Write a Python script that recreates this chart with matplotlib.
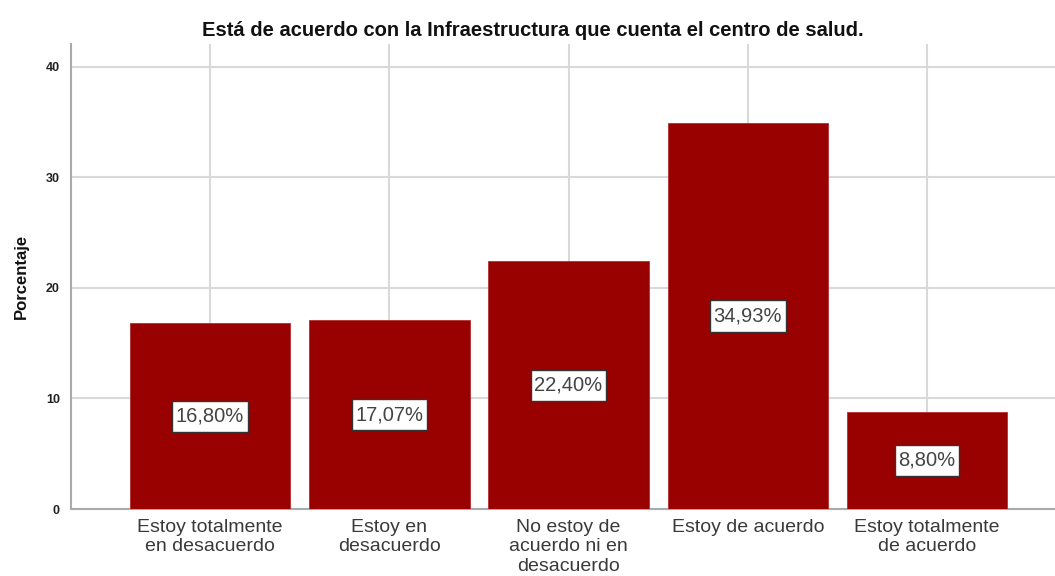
import matplotlib
matplotlib.use("Agg")
import matplotlib.pyplot as plt
from matplotlib.path import Path

categories = ["Estoy totalmente\nen desacuerdo", "Estoy en\ndesacuerdo",
              "No estoy de\nacuerdo ni en\ndesacuerdo", "Estoy de acuerdo",
              "Estoy totalmente\nde acuerdo"]
values = [16.80, 17.07, 22.40, 34.93, 8.80]
labels = ["16,80%", "17,07%", "22,40%", "34,93%", "8,80%"]
title = "Está de acuerdo con la Infraestructura que cuenta el centro de salud."

plt.rcParams['font.family'] = ['Liberation Sans', 'DejaVu Sans']


def label_box(x0, y0, width, height, mutation_size):
    px = 0.18 * mutation_size
    py = 0.30 * mutation_size
    x0, y0 = x0 - px, y0 - py
    x1, y1 = x0 + width + 2 * px, y0 + height + 2 * py
    return Path([(x0, y0), (x1, y0), (x1, y1), (x0, y1), (x0, y0)], closed=True)


fig = plt.figure(figsize=(10.55, 5.76), dpi=100)
ax = fig.add_axes([71/1055, 1-509/576, 1-71/1055, (509-44)/576])

x = list(range(len(values)))
ax.bar(x, values, width=0.895, color="#990000", edgecolor="#b03030", linewidth=0.6, zorder=3)

for xi, v, lab in zip(x, values, labels):
    ax.text(xi, v/2, lab, ha="center", va="center", fontsize=14.5, color="#444444", zorder=4,
            bbox=dict(boxstyle=label_box, facecolor="white", edgecolor="#333333", linewidth=1.0))

ax.set_xlim(-0.776, 4.714)
ax.set_ylim(0, 42.08)
ax.set_yticks([0, 10, 20, 30, 40])
ax.set_xticks(x)
ax.set_xticklabels(categories, fontsize=14, color="#3a3a3a", linespacing=1.2, va="top")
ax.tick_params(axis="both", length=0)
ax.tick_params(axis="y", labelsize=9, pad=8, labelcolor="#222222")
ax.tick_params(axis="x", pad=7)
for lbl in ax.get_yticklabels():
    lbl.set_fontweight("bold")

ax.grid(True, color="#d9d9d9", linewidth=1.5, zorder=0)
ax.set_axisbelow(True)
for s in ["top", "right"]:
    ax.spines[s].set_visible(False)
ax.spines["left"].set_color("#aaaaaa")
ax.spines["left"].set_linewidth(1.5)
ax.spines["bottom"].set_color("#aaaaaa")
ax.spines["bottom"].set_linewidth(1.5)

ax.set_ylabel("Porcentaje", fontsize=12, fontweight="bold", color="#111111", labelpad=12)
fig.text(533/1055, 1-30/576, title, ha="center", va="center", fontsize=14.5, fontweight="bold", color="#111111")

fig.savefig("out.png", dpi=100)
